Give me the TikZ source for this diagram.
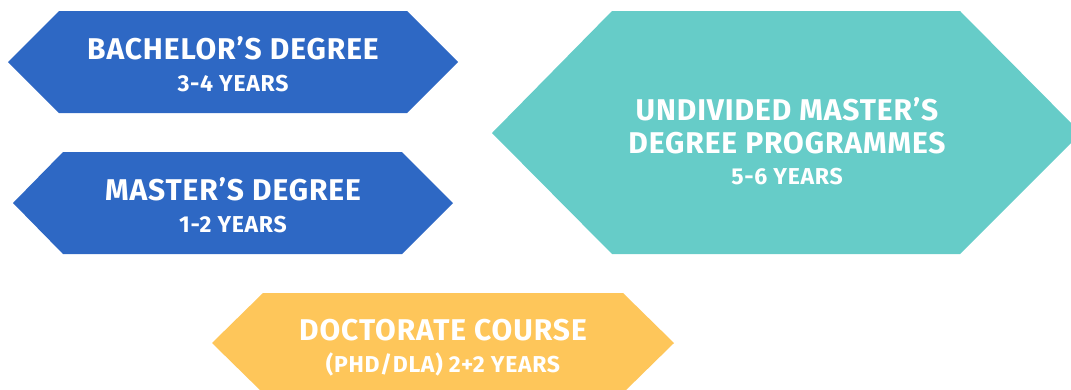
\documentclass[tikz,border=0pt]{standalone}
\usepackage{fontspec}
\setmainfont{Fira Sans}
\newfontfamily\lsfont{Fira Sans}[LetterSpace=3]
\definecolor{cblue}{RGB}{46,104,196}
\definecolor{cteal}{RGB}{102,204,200}
\definecolor{cyell}{RGB}{254,198,90}
\tikzset{
  big/.style={text=white,anchor=base,inner sep=0pt,font=\lsfont\fontsize{30}{32}\selectfont\bfseries},
  small/.style={text=white,anchor=base,inner sep=0pt,font=\lsfont\fontsize{23}{26}\selectfont\bfseries}
}
\begin{document}
\begin{tikzpicture}[x=1pt,y=-1pt]
\useasboundingbox (0,0) rectangle (1071,389);
\fill[cblue] (8,62) -- (59,11) -- (407,11) -- (458,62) -- (407,113) -- (59,113) -- cycle;
\fill[cblue] (13,203) -- (63,152) -- (402,152) -- (453,203) -- (402,254) -- (63,254) -- cycle;
\fill[cteal] (492,133) -- (612,11) -- (960,11) -- (1081,133) -- (960,254) -- (612,254) -- cycle;
\fill[cyell] (212,343) -- (263,293) -- (623,293) -- (674,343) -- (623,393) -- (263,393) -- cycle;
\node[big] (b1) at (233,59) {BACHELOR’S DEGREE};
\node[small] (b2) at (233,91) {3-4 YEARS};
\node[big] (m1) at (233,200) {MASTER’S DEGREE};
\node[small] (m2) at (233,232) {1-2 YEARS};
\node[big] (u1) at (787,120) {UNDIVIDED MASTER’S};
\node[big] (u2) at (787,153) {DEGREE PROGRAMMES};
\node[small] (u3) at (787,184) {5-6 YEARS};
\node[big] (d1) at (443,340) {DOCTORATE COURSE};
\node[small] (d2) at (443,372) {(PHD/DLA) 2+2 YEARS};
\end{tikzpicture}
\end{document}
